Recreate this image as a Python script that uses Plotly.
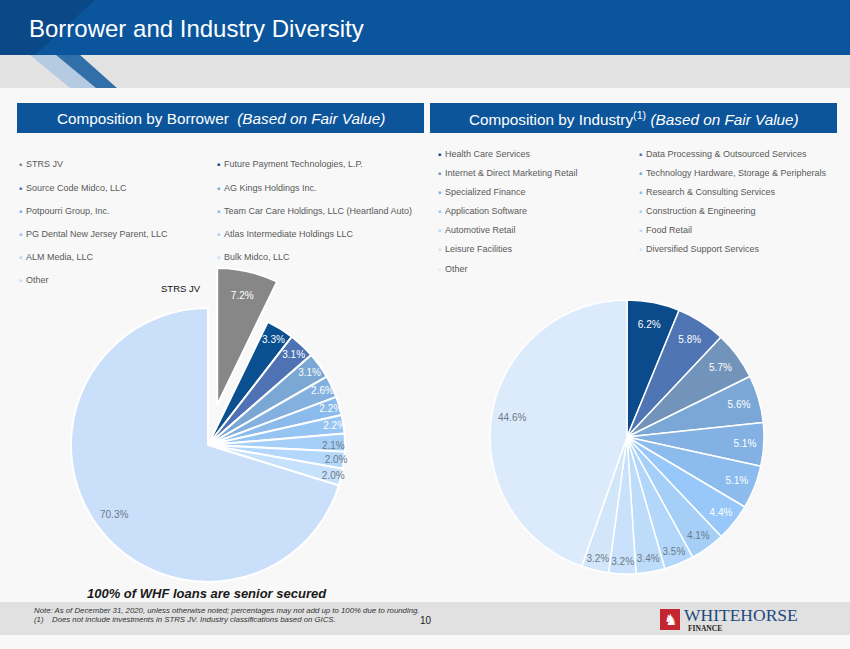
import math
import plotly.graph_objects as go

W, H = 850, 649
FONT = "Liberation Sans, Arial, sans-serif"
SERIF = "Liberation Serif, Times New Roman, serif"

# composition by borrower, clockwise from 12 o'clock (legend reads row by row)
borrowers = [
    "STRS JV", "Future Payment Technologies, L.P.",
    "Source Code Midco, LLC", "AG Kings Holdings Inc.",
    "Potpourri Group, Inc.", "Team Car Care Holdings, LLC (Heartland Auto)",
    "PG Dental New Jersey Parent, LLC", "Atlas Intermediate Holdings LLC",
    "ALM Media, LLC", "Bulk Midco, LLC",
    "Other",
]
borrower_pct = [7.2, 3.3, 3.1, 3.1, 2.6, 2.2, 2.2, 2.1, 2.0, 2.0, 70.3]
borrower_colors = ["#878787", "#0a4f8f", "#4e72b3", "#7ba7d4", "#84b0e0", "#8bbbec",
                   "#97c5f3", "#a5cff8", "#b3d8fb", "#c5e1fb", "#c9dffa"]

# composition by industry
industries = [
    "Health Care Services", "Data Processing & Outsourced Services",
    "Internet & Direct Marketing Retail", "Technology Hardware, Storage & Peripherals",
    "Specialized Finance", "Research & Consulting Services",
    "Application Software", "Construction & Engineering",
    "Automotive Retail", "Food Retail",
    "Leisure Facilities", "Diversified Support Services",
    "Other",
]
industry_pct = [6.2, 5.8, 5.7, 5.6, 5.1, 5.1, 4.4, 4.1, 3.5, 3.4, 3.2, 3.2, 44.6]
industry_colors = ["#0b4a8b", "#4f75b5", "#7293ba", "#7aa7d6", "#83b1e4", "#8cbcee", "#97c8f9",
                   "#a6cff7", "#b3d7fa", "#bddcfa", "#c9e1fa", "#d2e6fa", "#dcebfc"]

WHITE_TXT, GREY_TXT = "#ffffff", "#6e7a87"
borrower_text = [WHITE_TXT] * 7 + [GREY_TXT] * 4
industry_text = [WHITE_TXT] * 7 + [GREY_TXT] * 6


def px(x):
    return x / W


def py(y):
    return 1 - y / H


def pie_domain(cx, cy, r, pull=0.0):
    half = r * (1 + pull)
    return dict(x=[px(cx - half), px(cx + half)], y=[py(cy + half), py(cy - half)])


def rect(x0, y0, x1, y1, color):
    return dict(type="rect", xref="paper", yref="paper", x0=px(x0), x1=px(x1),
                y0=py(y1), y1=py(y0), fillcolor=color, line=dict(width=0), layer="below")


def poly(points, color):
    path = "M " + " L ".join(f"{px(x):.4f},{py(y):.4f}" for x, y in points) + " Z"
    return dict(type="path", xref="paper", yref="paper", path=path,
                fillcolor=color, line=dict(width=0), layer="below")


def note(x, y, text, size=9, color="#595959", anchor="left", family=FONT):
    return dict(x=px(x), y=py(y), xref="paper", yref="paper", text=text, showarrow=False,
                xanchor=anchor, yanchor="middle", font=dict(family=family, size=size, color=color))


def big_label(values, cx, cy, r, color):
    # label of the last (largest) slice sits at 85% of the radius on its mid angle
    total = sum(values)
    start = sum(values[:-1]) / total * 360
    mid = math.radians((start + 360) / 2)
    rr = 0.85 * r
    return note(cx + rr * math.sin(mid), cy - rr * math.cos(mid), f"{values[-1]:.1f}%",
                size=10, color=color, anchor="center")


def legend(labels, colors, x_cols, y0, dy):
    out = []
    for i, (lab, col) in enumerate(zip(labels, colors)):
        x = x_cols[i % 2]
        y = y0 + (i // 2) * dy
        out.append(note(x, y, "■", size=5, color=col, anchor="center"))
        out.append(note(x + 3.5, y, lab, size=9))
    return out


L_CX, L_CY, L_R, PULL = 208, 445, 137, 0.3
R_CX, R_CY, R_R = 627, 437, 137

fig = go.Figure()
fig.add_trace(go.Pie(
    labels=borrowers, values=borrower_pct, sort=False, direction="clockwise", rotation=0,
    pull=[PULL] + [0] * (len(borrowers) - 1),
    marker=dict(colors=borrower_colors, line=dict(color="white", width=2)),
    texttemplate=["%{value:.1f}%"] * (len(borrowers) - 1) + [""],
    textposition="inside", insidetextorientation="horizontal",
    textfont=dict(family=FONT, size=10, color=borrower_text),
    domain=pie_domain(L_CX, L_CY, L_R, PULL), showlegend=False,
))
fig.add_trace(go.Pie(
    labels=industries, values=industry_pct, sort=False, direction="clockwise", rotation=0,
    marker=dict(colors=industry_colors, line=dict(color="white", width=1.5)),
    texttemplate=["%{value:.1f}%"] * (len(industries) - 1) + [""],
    textposition="inside", insidetextorientation="horizontal",
    textfont=dict(family=FONT, size=10, color=industry_text),
    domain=pie_domain(R_CX, R_CY, R_R), showlegend=False,
))

shapes = [
    rect(0, 0, W, 55, "#0b559c"),
    poly([(0, 0), (95, 0), (35, 55), (0, 55)], "rgba(8,58,112,0.45)"),
    rect(0, 55, W, 88, "#e3e3e3"),
    poly([(30, 55), (56, 55), (96, 88), (70, 88)], "#b4cbe1"),
    poly([(56, 55), (80, 55), (117, 88), (96, 88)], "#316fa9"),
    rect(17, 103, 424, 133, "#0c559b"),
    rect(430, 103, 837, 133, "#0c559b"),
    rect(0, 602, W, 635, "#e1e1e1"),
    rect(660, 609, 680, 630, "#c3262e"),
]

annotations = [
    note(27, 29, "Borrower and Industry Diversity", size=24, color="#ffffff"),
    note(220.5, 118, "Composition by Borrower  <i>(Based on Fair Value)</i>", size=15.3,
         color="#ffffff", anchor="center"),
    note(633.5, 118, "Composition by Industry<sup>(1)</sup> <i>(Based on Fair Value)</i>", size=15.3,
         color="#ffffff", anchor="center"),
    note(203, 288, "STRS JV", size=9.5, color="#111111", anchor="right"),
    big_label(borrower_pct, L_CX, L_CY, L_R, GREY_TXT),
    big_label(industry_pct, R_CX, R_CY, R_R, GREY_TXT),
    note(207, 593, "<b><i>100% of WHF loans are senior secured</i></b>", size=13,
         color="#1a1a1a", anchor="center"),
    note(32, 610, "<i>Note: As of December 31, 2020, unless otherwise noted; percentages may not "
                  "add up to 100% due to rounding.</i>", size=7.8, color="#333333"),
    note(32, 619.5, "<i>(1)</i>", size=7.8, color="#333333"),
    note(50, 619.5, "<i>Does not include investments in STRS JV. Industry classifications "
                    "based on GICS.</i>", size=7.8, color="#333333"),
    note(426, 620, "10", size=10, color="#222222", anchor="center"),
    note(670, 619.5, "♞", size=15, color="#ffffff", anchor="center", family=SERIF),
    note(682, 615, "WHITEHORSE", size=17.5, color="#1f497d", family=SERIF),
    note(686, 628, "<b>FINANCE</b>", size=7.5, color="#222222", family=SERIF),
]

annotations += legend(borrowers, borrower_colors, [20, 218], 164.3, 23.2)
annotations += legend(industries, industry_colors, [439, 640], 154, 19.1)

fig.update_layout(
    width=W, height=H,
    margin=dict(l=0, r=0, t=0, b=0),
    paper_bgcolor="#f8f8f8", plot_bgcolor="#f8f8f8",
    uniformtext=dict(minsize=10, mode="show"),
    shapes=shapes, annotations=annotations,
    font=dict(family=FONT),
)
fig.write_html("out.html", config={"displayModeBar": False},
               post_script="document.body.style.margin = '0';")
